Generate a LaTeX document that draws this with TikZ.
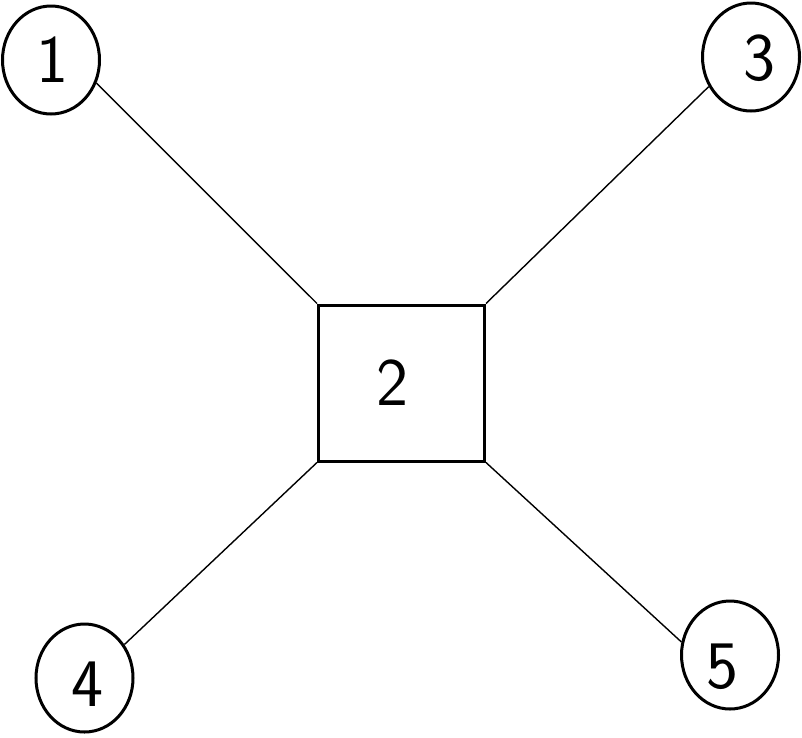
\documentclass[tikz,border=0pt]{standalone}
\usetikzlibrary{shapes.geometric}
\begin{document}
\begin{tikzpicture}[x=1pt,y=-1pt,
  bubble/.style={draw=black,line width=3pt,ellipse,minimum width=97pt,minimum height=108pt,inner sep=0pt},
  boxnode/.style={draw=black,line width=3pt,minimum width=166pt,minimum height=156pt,inner sep=0pt},
  link/.style={draw=black,line width=1.4pt},
  digit/.style={font=\sffamily\fontsize{68}{68}\selectfont}]
\useasboundingbox (0,0) rectangle (802,737);
\node[bubble] (c1) at (51,60) {};
\node[bubble] (c3) at (751,57) {};
\node[bubble] (c4) at (84.5,678) {};
\node[bubble] (c5) at (730,655) {};
\node[boxnode] (b) at (401.5,383) {};
\node[digit] (t1) at (52,60) {1};
\node[digit] (t3) at (759,58) {3};
\node[digit] (t4) at (87,684) {4};
\node[digit] (t5) at (722,667) {5};
\node[digit] (t2) at (392,383) {2};
\draw[link] (b.north west) -- (c1.-27);
\draw[link] (b.north east) -- (c3.-145);
\draw[link] (b.south west) -- (c4.40);
\draw[link] (b.south east) -- (c5.165);
\end{tikzpicture}
\end{document}
